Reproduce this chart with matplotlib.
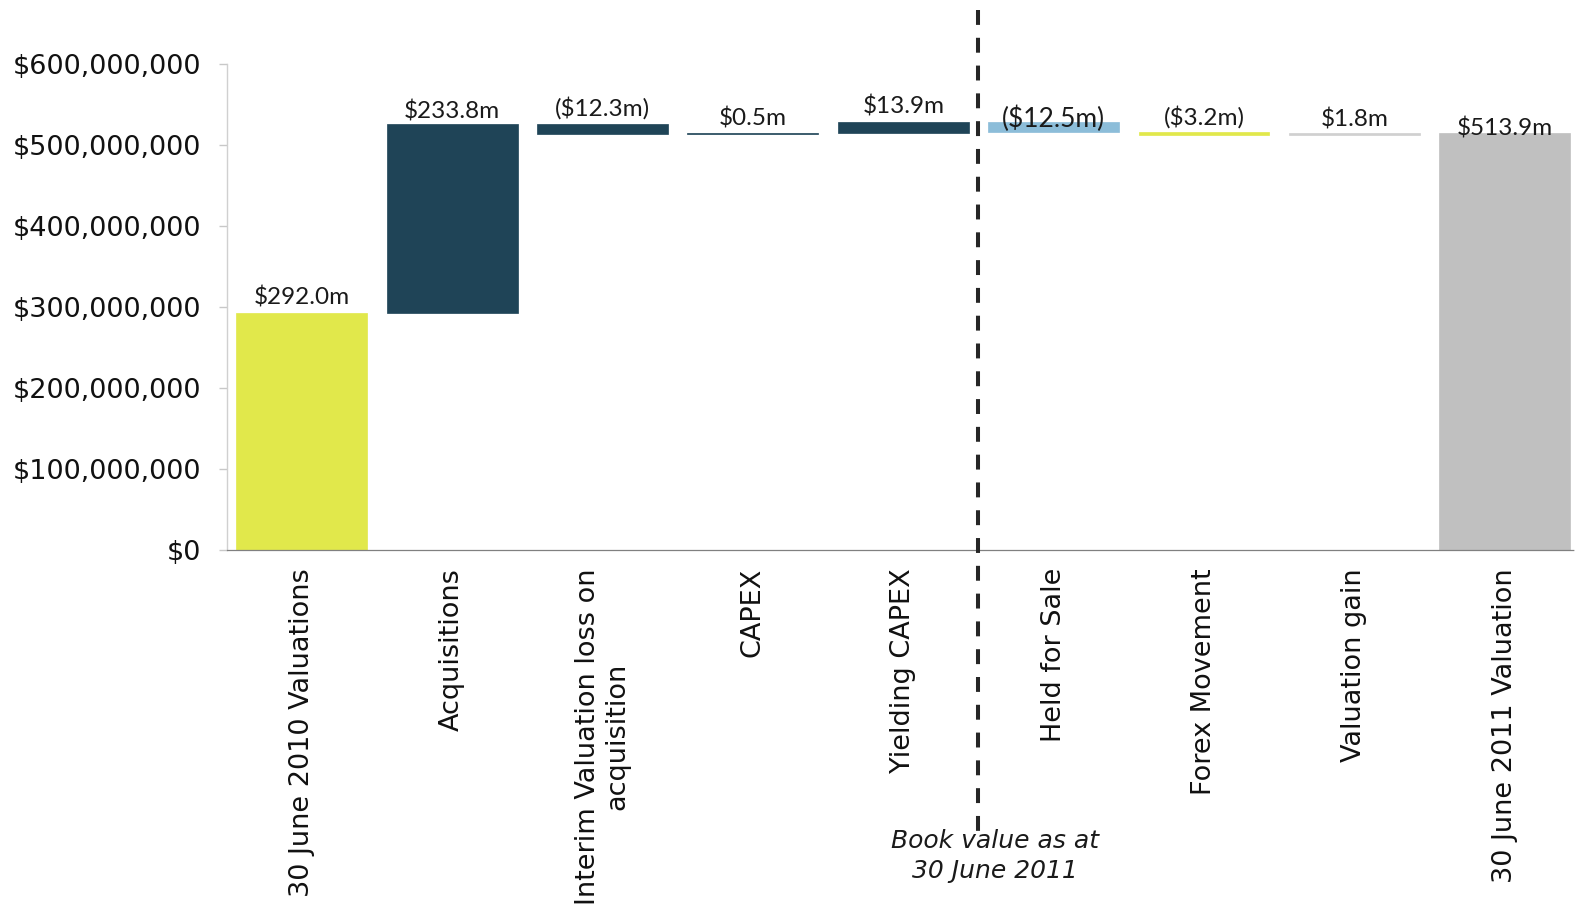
import matplotlib
matplotlib.use("Agg")
import matplotlib.pyplot as plt
from matplotlib.ticker import FuncFormatter, MultipleLocator
from matplotlib.lines import Line2D
from matplotlib.transforms import blended_transform_factory

# Property valuation bridge, values in $ millions
categories = [
    "30 June 2010 Valuations",
    "Acquisitions",
    "Interim Valuation loss on\nacquisition",
    "CAPEX",
    "Yielding CAPEX",
    "Held for Sale",
    "Forex Movement",
    "Valuation gain",
    "30 June 2011 Valuation",
]
changes_m = [292.0, 233.8, -12.3, 0.5, 13.9, -12.5, -3.2, 1.8, 513.9]
is_total = [True, False, False, False, False, False, False, False, True]

bar_colors = ["#E1E84B", "#1F4457", "#1F4457", "#1F4457", "#1F4457",
              "#8CBDD9", "#E1E84B", "#D0D0D0", "#C0C0C0"]
label_offsets_pt = [3.5, 1, 3, 3, 3, -7, 2.5, 2, -4.5]
label_sizes = [17.5, 17.5, 17.5, 17.5, 17.5, 19, 17.5, 17.5, 17.5]

# Running totals for the floating bars
bottoms, heights = [], []
running = 0.0
for val, total in zip(changes_m, is_total):
    if total:
        bottoms.append(0.0)
        heights.append(val)
        running = val
    else:
        bottoms.append(running if val >= 0 else running + val)
        heights.append(abs(val))
        running += val

fig = plt.figure(figsize=(15.79, 9.06), dpi=100)
ax = fig.add_axes([0.1435, 0.3929, 0.8533, 0.537])

x = list(range(len(categories)))
ax.bar(x, [h * 1e6 for h in heights], bottom=[b * 1e6 for b in bottoms],
       width=0.87, color=bar_colors, edgecolor=bar_colors, linewidth=0.5,
       zorder=2)

# Value labels above each bar
for i, (val, total) in enumerate(zip(changes_m, is_total)):
    if val < 0:
        txt = f"(${abs(val):.1f}m)"
    else:
        txt = f"${val:.1f}m"
    top = (bottoms[i] + heights[i]) * 1e6
    ax.annotate(txt, xy=(i, top), xytext=(0, label_offsets_pt[i]),
                textcoords="offset points", ha="center", va="bottom",
                fontsize=label_sizes[i], family="Lato", color="#1A1A1A",
                zorder=4)

ax.set_xlim(-0.5, 8.46)
ax.set_ylim(0, 600e6)
ax.yaxis.set_major_locator(MultipleLocator(100e6))
ax.yaxis.set_major_formatter(FuncFormatter(lambda v, p: f"${v:,.0f}"))

ax.set_xticks(x)
ax.set_xticklabels(categories, rotation=90, ha="center", va="top",
                   multialignment="center", fontsize=19.5,
                   family="DejaVu Sans", color="#111111")
ax.tick_params(axis="x", length=0, pad=13)
ax.tick_params(axis="y", length=6, width=1, color="#C8C8C8", pad=12,
               labelsize=19.5, labelcolor="#111111")

for side in ("top", "right"):
    ax.spines[side].set_visible(False)
ax.spines["left"].set_color("#D0D0D0")
ax.spines["left"].set_linewidth(1)
ax.spines["bottom"].set_color("#808080")
ax.spines["bottom"].set_linewidth(0.9)
ax.spines["bottom"].set_linestyle((0, (1.2, 1)))
ax.spines["bottom"].set_zorder(3)

# Divider between book-value movements and the year-end adjustments
trans = blended_transform_factory(ax.transData, ax.transAxes)
divider = Line2D([4.5, 4.5], [1.11, -0.592], transform=trans,
                 color="#262626", linewidth=2.9, clip_on=False, zorder=5)
divider.set_dashes((3.7, 3.2))
ax.add_line(divider)

fig.text(995 / 1579, 1 - 856 / 906, "Book value as at\n30 June 2011",
         ha="center", va="center", fontsize=18, style="italic",
         family="DejaVu Sans", color="#1A1A1A", linespacing=1.3)

fig.savefig("out.png", dpi=100)
